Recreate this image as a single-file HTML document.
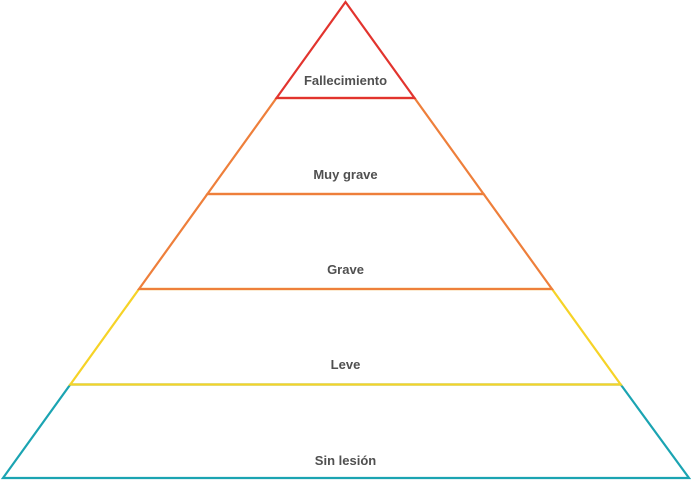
<!DOCTYPE html>
<html><head><meta charset="utf-8"><style>
html,body{margin:0;padding:0;background:#fff;}
svg{display:block;}
text{font-family:"Liberation Sans",sans-serif;font-weight:bold;font-size:13px;fill:#505050;text-anchor:middle;}
</style></head><body>
<svg width="691" height="481" viewBox="0 0 691 481">
<g fill="none" stroke-width="2.2" stroke-linejoin="miter">
<polygon points="3,478 689,478 620.7,384.5 70.3,384.5" stroke="#1ba4b2"/>
<polygon points="70.3,384.5 620.7,384.5 552,289 139,289" stroke="#f6d327"/>
<polygon points="139,289 552,289 483.6,194 207.4,194" stroke="#ee7f3b"/>
<polygon points="207.4,194 483.6,194 414.5,98 276.5,98" stroke="#ee7f3b"/>
<polygon points="276.5,98 414.5,98 345.5,2" stroke="#e2342e"/>
</g>
<text x="345.5" y="85">Fallecimiento</text>
<text x="345.5" y="179">Muy grave</text>
<text x="345.5" y="274">Grave</text>
<text x="345.5" y="369">Leve</text>
<text x="345.5" y="465">Sin lesión</text>
</svg>
</body></html>
